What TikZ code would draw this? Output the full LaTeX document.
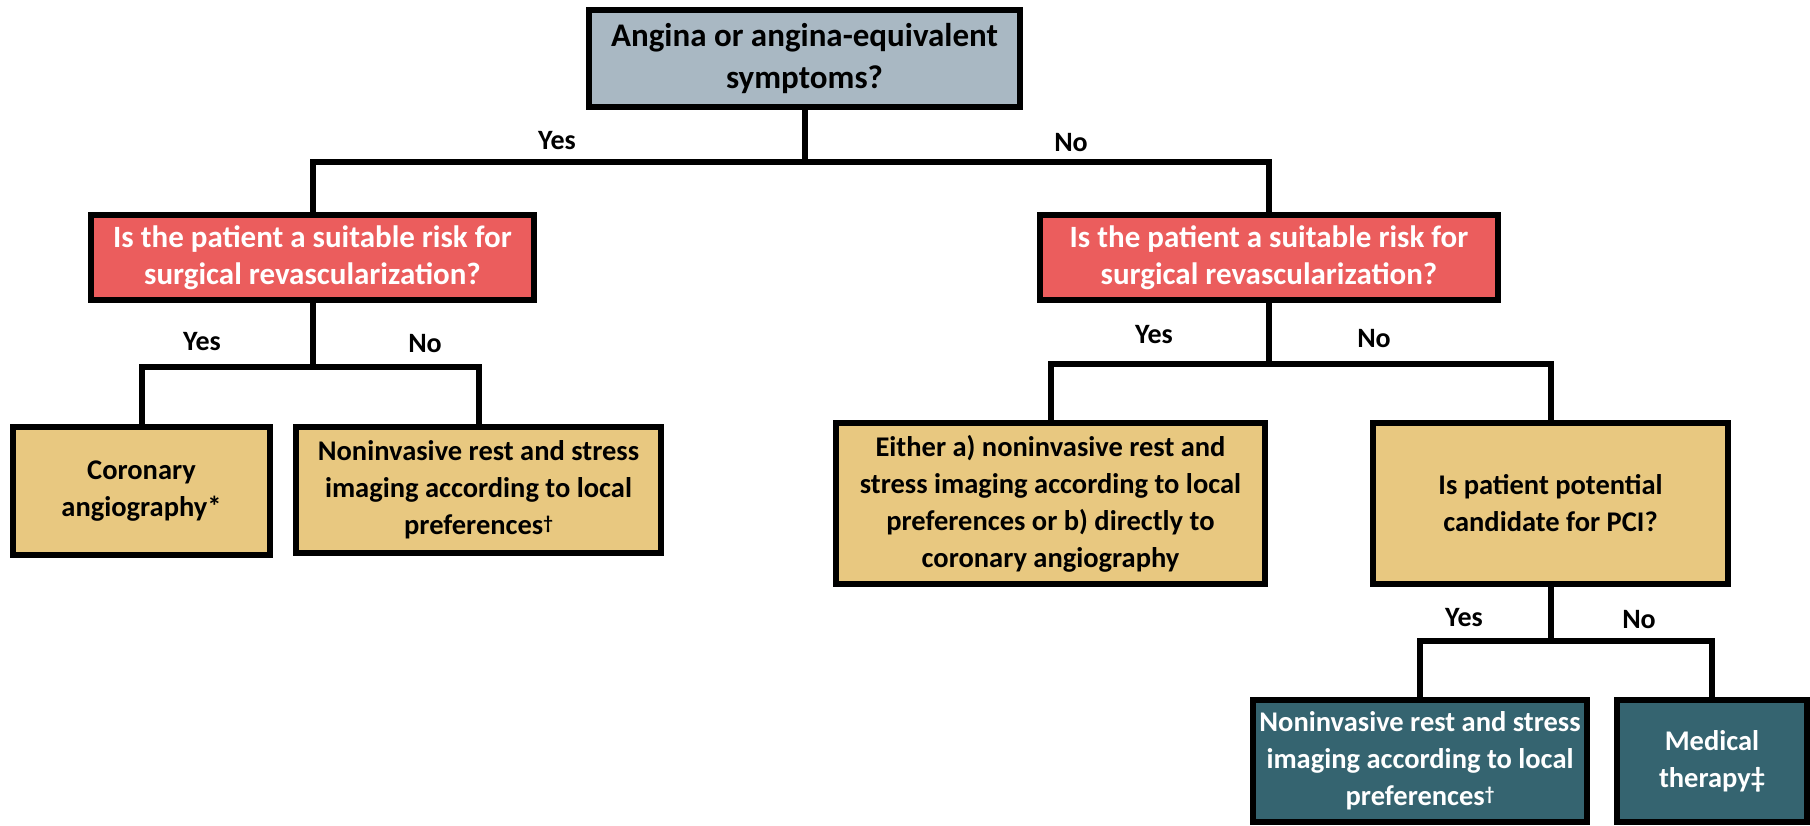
\documentclass[tikz,border=0pt]{standalone}
\usepackage{fontspec}
\setmainfont{Carlito}
\definecolor{topfill}{HTML}{A9B8C3}
\definecolor{redfill}{HTML}{EB5D5D}
\definecolor{orfill}{HTML}{E8C880}
\definecolor{tealfill}{HTML}{356470}
\newcommand{\smdag}{{\fontsize{19}{19}\selectfont\raisebox{5pt}{†}}}
\begin{document}
\begin{tikzpicture}[x=1pt,y=-1pt,
  box/.style={draw=black,line width=6pt,align=center,inner sep=0pt,outer sep=0pt},
  greybox/.style={box,fill=topfill,text=black,font=\fontsize{33}{42}\selectfont\bfseries},
  redbox/.style={box,fill=redfill,text=white,font=\fontsize{31}{37}\selectfont\bfseries},
  orbox/.style={box,fill=orfill,text=black,font=\fontsize{28.5}{37}\selectfont\bfseries},
  tealbox/.style={box,fill=tealfill,text=white,font=\fontsize{28.5}{37}\selectfont\bfseries},
  conn/.style={draw=black,line width=6pt,line join=miter},
  lbl/.style={font=\fontsize{28}{32}\selectfont\bfseries,inner sep=0pt}]
\useasboundingbox (0,0) rectangle (1810,825);
\fill[white] (0,0) rectangle (1810,825);

\node[greybox,minimum width=431pt,minimum height=97pt] (top) at (804.5,58.5)
  {Angina or angina-equivalent\\symptoms?};
\node[redbox,minimum width=443pt,minimum height=85pt] (redL) at (312.5,257.5)
  {Is the patient a suitable risk for\\surgical revascularization?};
\node[redbox,minimum width=458pt,minimum height=85pt] (redR) at (1269,257.5)
  {Is the patient a suitable risk for\\surgical revascularization?};
\node[orbox,minimum width=257pt,minimum height=128pt] (or1) at (141.5,491)
  {Coronary\\angiography*};
\node[orbox,minimum width=365pt,minimum height=126pt] (or2) at (478.5,490)
  {Noninvasive rest and stress\\imaging according to local\\preferences\smdag};
\node[orbox,minimum width=429pt,minimum height=161pt] (or3) at (1050.5,503.5)
  {Either a) noninvasive rest and\\stress imaging according to local\\preferences or b) directly to\\coronary angiography};
\node[orbox,minimum width=355pt,minimum height=161pt] (or4) at (1550.5,503.5)
  {Is patient potential\\candidate for PCI?};
\node[tealbox,minimum width=334pt,minimum height=122pt] (teal1) at (1420,761)
  {Noninvasive rest and stress\\imaging according to local\\preferences\smdag};
\node[tealbox,minimum width=190pt,minimum height=122pt] (teal2) at (1712,761)
  {Medical\\therapy‡};

\coordinate (j1) at (804.5,162);
\coordinate (j2) at (312.5,367);
\coordinate (j3) at (1269,364);
\coordinate (j4) at (1550.5,641);

\draw[conn] (top.south) -- (j1);
\draw[conn] (redL.north) |- (j1) -| (redR.north);
\draw[conn] (redL.south) -- (j2);
\draw[conn] (or1.north) |- (j2) -| (or2.north);
\draw[conn] (redR.south) -- (j3);
\draw[conn] (or3.north) |- (j3) -| (or4.north);
\draw[conn] (or4.south) -- (j4);
\draw[conn] (teal1.north) |- (j4) -| (teal2.north);

\node[lbl] (y1) at (557,141) {Yes};
\node[lbl] (n1) at (1071,143) {No};
\node[lbl] (y2) at (202,342) {Yes};
\node[lbl] (n2) at (425,344) {No};
\node[lbl] (y3) at (1154,335) {Yes};
\node[lbl] (n3) at (1374,339) {No};
\node[lbl] (y4) at (1464,618) {Yes};
\node[lbl] (n4) at (1639,620) {No};
\end{tikzpicture}
\end{document}
